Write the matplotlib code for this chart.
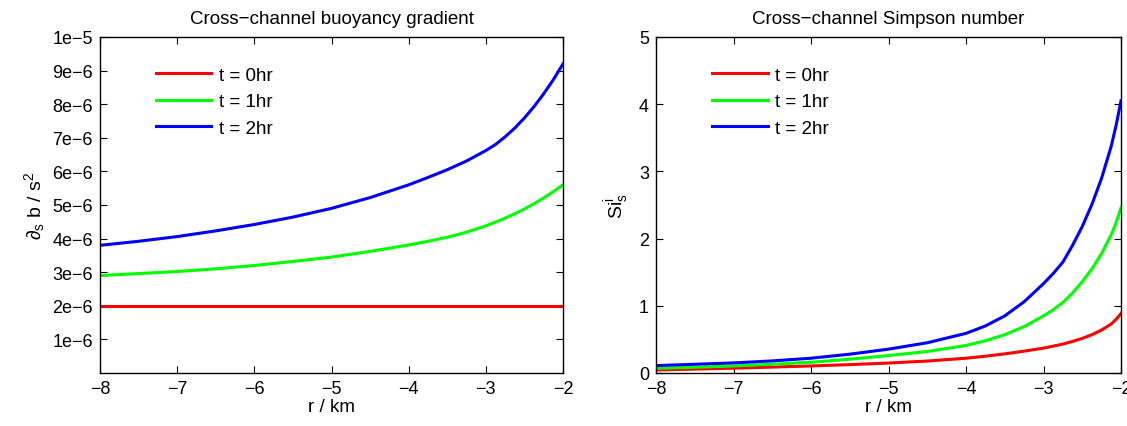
import matplotlib
matplotlib.use("Agg")
import matplotlib.pyplot as plt

plt.rcParams['font.family'] = ['Liberation Sans', 'DejaVu Sans']
plt.rcParams['mathtext.fontset'] = 'custom'
plt.rcParams['mathtext.rm'] = 'Liberation Sans'
plt.rcParams['mathtext.it'] = 'Liberation Sans:italic'
plt.rcParams['mathtext.sf'] = 'Liberation Sans'

# ---- data: left panel (buoyancy gradient) ----
r_grad = [-8, -7.5, -7, -6.5, -6, -5.5, -5, -4.5, -4, -3.75, -3.5, -3.25,
          -3, -2.875, -2.75, -2.625, -2.5, -2.375, -2.25, -2.125, -2]
grad_t0 = [2e-6] * len(r_grad)
grad_t1 = [2.90e-6, 2.96e-6, 3.02e-6, 3.10e-6, 3.20e-6, 3.32e-6, 3.45e-6,
           3.62e-6, 3.81e-6, 3.92e-6, 4.04e-6, 4.19e-6, 4.38e-6, 4.49e-6,
           4.61e-6, 4.74e-6, 4.88e-6, 5.04e-6, 5.21e-6, 5.40e-6, 5.60e-6]
grad_t2 = [3.80e-6, 3.92e-6, 4.06e-6, 4.23e-6, 4.42e-6, 4.64e-6, 4.90e-6,
           5.22e-6, 5.60e-6, 5.82e-6, 6.05e-6, 6.31e-6, 6.62e-6, 6.80e-6,
           7.03e-6, 7.29e-6, 7.59e-6, 7.93e-6, 8.31e-6, 8.73e-6, 9.20e-6]

# ---- data: right panel (Simpson number) ----
r_si = [-8, -7.5, -7, -6.5, -6, -5.5, -5, -4.5, -4, -3.75, -3.5, -3.25,
        -3, -2.875, -2.75, -2.625, -2.5, -2.375, -2.25, -2.125, -2.0625, -2]
si_t0 = [0.045, 0.058, 0.072, 0.088, 0.105, 0.125, 0.148, 0.178, 0.22, 0.25,
         0.285, 0.325, 0.37, 0.40, 0.43, 0.47, 0.515, 0.57, 0.64, 0.73,
         0.80, 0.885]
si_t1 = [0.07, 0.085, 0.105, 0.13, 0.16, 0.205, 0.26, 0.32, 0.41, 0.48,
         0.57, 0.69, 0.85, 0.94, 1.05, 1.19, 1.36, 1.55, 1.78, 2.06,
         2.24, 2.46]
si_t2 = [0.11, 0.13, 0.15, 0.18, 0.22, 0.28, 0.355, 0.45, 0.59, 0.70,
         0.85, 1.06, 1.33, 1.48, 1.65, 1.90, 2.18, 2.51, 2.90, 3.38,
         3.69, 4.05]

labels = ['t = 0hr', 't = 1hr', 't = 2hr']
colors = ['#ff0000', '#00ff00', '#0000ff']

xticks = [-8, -7, -6, -5, -4, -3, -2]
xticklabels = ['\u22128', '\u22127', '\u22126', '\u22125', '\u22124', '\u22123', '\u22122']
left_yticks = [1e-6, 2e-6, 3e-6, 4e-6, 5e-6, 6e-6, 7e-6, 8e-6, 9e-6, 1e-5]
left_yticklabels = ['1e\u22126', '2e\u22126', '3e\u22126', '4e\u22126', '5e\u22126',
                    '6e\u22126', '7e\u22126', '8e\u22126', '9e\u22126', '1e\u22125']
right_yticks = [0, 1, 2, 3, 4, 5]

W, H = 1127, 427
fig = plt.figure(figsize=(W / 100, H / 100), dpi=100)
ax1 = fig.add_axes([100 / W, 1 - 374 / H, 463 / W, 336 / H])
ax2 = fig.add_axes([656 / W, 1 - 374 / H, 465 / W, 336 / H])

leg_kw = dict(loc='upper left', bbox_to_anchor=(0.121, 0.912), frameon=False,
              fontsize=13.5, handlelength=2.95, handletextpad=0.4,
              labelspacing=0.5, borderaxespad=0, borderpad=0)

for ax in (ax1, ax2):
    ax.tick_params(direction='in', top=True, right=True, length=5, width=0.8,
                   labelsize=13, pad=5)
    for s in ax.spines.values():
        s.set_linewidth(1.0)
    ax.set_xlim(-8, -2)
    ax.set_xticks(xticks)
    ax.set_xticklabels(xticklabels)
    ax.set_xlabel('r / km', fontsize=13.5, labelpad=1)

for y, c, l in zip([grad_t0, grad_t1, grad_t2], colors, labels):
    ax1.plot(r_grad, y, color=c, lw=2.2, label=l)
ax1.set_ylim(0, 1e-5)
ax1.set_yticks(left_yticks)
ax1.set_yticklabels(left_yticklabels)
ax1.set_ylabel(r'$\partial_{\mathrm{s}}$ b / s$^2$', fontsize=14, labelpad=4)
ax1.set_title('Cross\u2212channel buoyancy gradient', fontsize=13.5, pad=10)
ax1.legend(**leg_kw)

for y, c, l in zip([si_t0, si_t1, si_t2], colors, labels):
    ax2.plot(r_si, y, color=c, lw=2.2, label=l)
ax2.set_ylim(0, 5)
ax2.set_yticks(right_yticks)
ax2.set_yticklabels([str(v) for v in right_yticks])
ax2.set_ylabel(r'Si$_{\mathrm{s}}^{\mathrm{i}}$', fontsize=14, labelpad=6)
ax2.set_title('Cross\u2212channel Simpson number', fontsize=13.5, pad=10)
ax2.legend(**leg_kw)

fig.savefig('out.png', dpi=100)
